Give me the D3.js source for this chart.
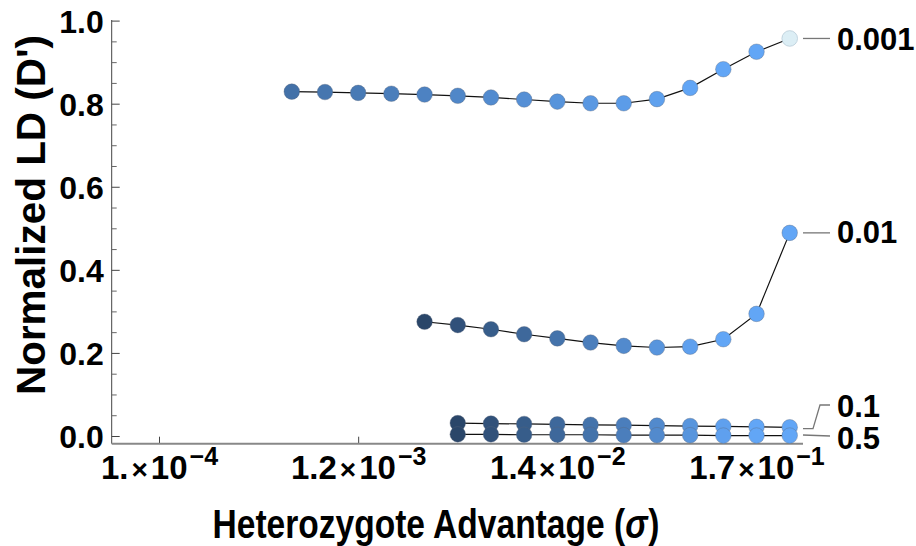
<!DOCTYPE html>
<html>
<head>
<meta charset="utf-8">
<script src="https://cdn.jsdelivr.net/npm/d3@7"></script>
<style>
  html, body { margin: 0; padding: 0; background: #fff; }
  svg { display: block; }
  text { font-family: "Liberation Sans", Arial, sans-serif; font-weight: bold; fill: #000; }
</style>
</head>
<body>
<svg id="chart" width="916" height="546"></svg>
<script>
// ---------------- data ----------------
// heterozygote advantage values (log-spaced) used by the series
const sigma = [5.248e-4, 7.943e-4, 1.202e-3, 1.820e-3, 2.754e-3, 4.169e-3, 6.310e-3, 9.550e-3,
               1.445e-2, 2.188e-2, 3.311e-2, 5.012e-2, 7.586e-2, 1.148e-1, 1.738e-1, 2.630e-1];
const seriesNames = ["0.001", "0.01", "0.1", "0.5"];
const ld0001 = [0.829, 0.828, 0.826, 0.824, 0.822, 0.819, 0.815, 0.810, 0.805, 0.801, 0.801, 0.811, 0.838, 0.883, 0.925, 0.957];
const ld001  = [0.275, 0.267, 0.257, 0.245, 0.235, 0.225, 0.217, 0.213, 0.215, 0.233, 0.294, 0.489];
const ld01   = [0.031, 0.030, 0.029, 0.028, 0.027, 0.026, 0.025, 0.024, 0.023, 0.022, 0.021];
const ld05   = [0.004, 0.004, 0.003, 0.003, 0.003, 0.002, 0.002, 0.002, 0.001, 0.001, 0.001];
const xTickValues = [1.0e-4, 1.202e-3, 1.445e-2, 1.738e-1];
const xTickMant = ["1.", "1.2", "1.4", "1.7"];
const xTickExp = ["\u22124", "\u22123", "\u22122", "\u22121"];
const yTickValues = [0, 0.2, 0.4, 0.6, 0.8, 1.0];
const yTickLabels = ["0.0", "0.2", "0.4", "0.6", "0.8", "1.0"];
const yMinorValues = [0.05, 0.1, 0.15, 0.25, 0.3, 0.35, 0.45, 0.5, 0.55, 0.65, 0.7, 0.75, 0.85, 0.9, 0.95];

// ---------------- layout ----------------
const svg = d3.select("#chart");
const axisX0 = 111.7, axisX1 = 803, axisY = 443.7;
const x = d3.scaleLog().domain([Math.pow(10, -4.2565), Math.pow(10, -0.508)]).range([axisX0, axisX1]);
const y = d3.scaleLinear().domain([0, 1]).range([436, 20.6]);

const allSeries = [ld0001, ld001, ld01, ld05].map((vals, si) => {
  const xs = sigma.slice(sigma.length - vals.length);
  return { name: seriesNames[si], pts: vals.map((v, i) => ({ s: xs[i], v, i })) };
});

// ---------------- axes ----------------
svg.append("line").attr("x1", axisX0).attr("x2", axisX0).attr("y1", 20).attr("y2", axisY)
  .attr("stroke", "#444").attr("stroke-width", 1);
const yAxis = svg.append("g").attr("transform", `translate(${axisX0},0)`)
  .call(d3.axisLeft(y).tickValues(yTickValues).tickSize(-8).tickPadding(8)
    .tickFormat((d, i) => yTickLabels[i]));
yAxis.select(".domain").remove();
yAxis.selectAll("line").attr("stroke", "#444");
yAxis.selectAll("text").attr("font-size", 32).attr("font-family", "Liberation Sans, Arial, sans-serif")
  .attr("font-weight", "bold").attr("fill", "#000").attr("dy", "0.36em");
const yMinor = svg.append("g").attr("transform", `translate(${axisX0},0)`)
  .call(d3.axisLeft(y).tickValues(yMinorValues).tickSize(-5).tickFormat(""));
yMinor.select(".domain").remove();
yMinor.selectAll("line").attr("stroke", "#666");

const xAxis = svg.append("g").attr("transform", `translate(0,${axisY})`)
  .call(d3.axisBottom(x).tickValues(xTickValues).tickSize(-7).tickFormat(""));
xAxis.select(".domain").remove();
xAxis.selectAll("line").attr("stroke", "#444");
svg.append("line").attr("x1", axisX0).attr("x2", axisX1).attr("y1", axisY).attr("y2", axisY)
  .attr("stroke", "#888").attr("stroke-width", 2);
xAxis.selectAll(".tick").each(function (d, i) {
  const t = d3.select(this).append("text").attr("text-anchor", "middle").attr("y", 35)
    .attr("font-size", 33);
  t.append("tspan").text(xTickMant[i]);
  t.append("tspan").attr("font-size", 28).attr("dx", 3).text("\u00d7");
  t.append("tspan").attr("dx", 3).text("10");
  t.append("tspan").attr("font-size", 25).attr("dx", 2).attr("dy", -14).text(xTickExp[i]);
});

// axis titles
const xt = svg.append("g");
const xt1 = xt.append("text").attr("font-size", 41).text("Heterozygote Advantage (");
let w1 = xt1.node().getComputedTextLength();
const xt2 = xt.append("text").attr("font-size", 41).attr("font-style", "italic").attr("x", w1).text("\u03c3");
let w2 = xt2.node().getComputedTextLength();
const xt3 = xt.append("text").attr("font-size", 41).attr("x", w1 + w2 + 1).text(")");
const wTot = w1 + w2 + 1 + xt3.node().getComputedTextLength();
xt.attr("transform", `translate(${436 - 447 / 2},538) scale(${447 / wTot},1)`);

svg.append("text").attr("transform", "translate(45,215) rotate(-90)").attr("text-anchor", "middle")
  .attr("font-size", 41).attr("textLength", 360).attr("lengthAdjust", "spacingAndGlyphs")
  .text("Normalized LD (D')");

// ---------------- series ----------------
const cDark = "#2a4669", cLight = "#62a6f6";
const shade = d3.scaleLinear().domain([0, 1]).range([cDark, cLight]).clamp(true);
const line = d3.line().x(d => x(d.s)).y(d => y(d.v));

allSeries.forEach(s => {
  svg.append("path").datum(s.pts).attr("d", line).attr("fill", "none")
    .attr("stroke", "#111").attr("stroke-width", 1.2);
});
allSeries.forEach((s, si) => {
  const n = s.pts.length;
  svg.append("g").selectAll("circle").data(s.pts).join("circle")
    .attr("cx", d => x(d.s)).attr("cy", d => y(d.v)).attr("r", 7.8)
    .attr("fill", d => {
      if (si === 0) {
        if (d.i === n - 1) return "#dceef5";
        return shade(0.45 + d.i * 0.045);
      }
      return shade(d.i / 8.5);
    })
    .attr("stroke", d => (si === 0 && d.i === n - 1) ? "#b8ccd8" : "rgba(90,100,120,0.45)")
    .attr("stroke-width", 0.8);
});

// ---------------- series labels with leaders ----------------
const lastPt = s => s.pts[s.pts.length - 1];
const leaders = [
  [[803, y(lastPt(allSeries[0]).v)], [830, y(lastPt(allSeries[0]).v)]],
  [[803, y(lastPt(allSeries[1]).v)], [830, y(lastPt(allSeries[1]).v)]],
  [[803, y(lastPt(allSeries[2]).v) + 1.3], [813, y(lastPt(allSeries[2]).v) + 1.3], [820, 405], [830, 405]],
  [[803, 435], [830, 436]]
];
const labelY = [39.3, 232.3, 406, 438];
leaders.forEach((pts, i) => {
  svg.append("path").attr("d", d3.line()(pts)).attr("fill", "none")
    .attr("stroke", "#777").attr("stroke-width", 1.3);
  svg.append("text").attr("x", 837).attr("y", labelY[i]).attr("dy", "0.36em")
    .attr("font-size", 31).text(seriesNames[i]);
});
</script>
</body>
</html>
